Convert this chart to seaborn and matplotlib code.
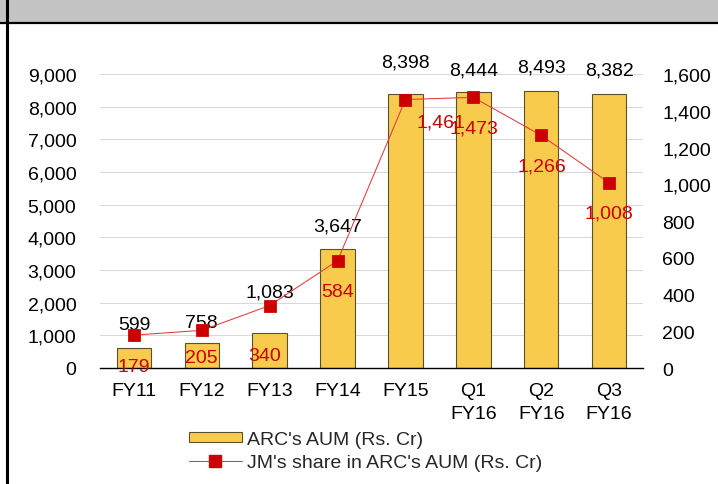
import matplotlib
matplotlib.use("Agg")
import matplotlib.pyplot as plt
import seaborn as sns
from matplotlib.patches import Rectangle, Patch
from matplotlib.lines import Line2D
from matplotlib.ticker import FuncFormatter, MultipleLocator

# ---- data ----
categories = ["FY11", "FY12", "FY13", "FY14", "FY15", "Q1\nFY16", "Q2\nFY16", "Q3\nFY16"]
arc_aum = [599, 758, 1083, 3647, 8398, 8444, 8493, 8382]
jm_share = [179, 205, 340, 584, 1461, 1473, 1266, 1008]
bar_series_name = "ARC's AUM (Rs. Cr)"
line_series_name = "JM's share in ARC's AUM (Rs. Cr)"

# ---- label placement (pixels), kept apart from data ----
bar_label_up_px = [24, 21, 41, 23, 32, 22, 24, 24]
line_label_off_px = [(0, 31), (0, 27), (-5, 50), (0, 31), (36, 22), (1, 31), (1, 31), (0, 30)]

BAR_COLOR = "#F8CB4C"
BAR_EDGE = "#5a5030"
RED = "#CC0000"
LINE_RED = "#E23A3F"

sns.set_style("white")
plt.rcParams["font.family"] = ["Liberation Sans", "DejaVu Sans"]
FS = 14

W, H = 718, 485
fig = plt.figure(figsize=(W / 100, H / 100), dpi=100)
ax = fig.add_axes([100 / W, 1 - 369 / H, (643 - 100) / W, (369 - 75) / H])

sns.barplot(x=categories, y=arc_aum, color=BAR_COLOR, width=0.51,
            edgecolor=BAR_EDGE, linewidth=0.8, saturation=1, ax=ax, zorder=2)
ax.set_ylim(0, 9000)
ax.yaxis.set_major_locator(MultipleLocator(1000))
ax.yaxis.set_major_formatter(FuncFormatter(lambda v, p: f"{int(v):,}"))
ax.grid(axis="y", color="#D9D9D9", linewidth=0.75, zorder=0)
ax.set_axisbelow(True)
for s in ["top", "left", "right"]:
    ax.spines[s].set_visible(False)
ax.spines["bottom"].set_color("black")
ax.spines["bottom"].set_linewidth(1.0)
ax.spines["bottom"].set_zorder(3)
ax.tick_params(axis="y", length=0, pad=17, labelsize=FS, labelcolor="black")
ax.tick_params(axis="x", length=0, pad=10, labelsize=FS, labelcolor="black")
ax.set_xlabel("")
ax.set_ylabel("")

# bar value labels
for i, (cat, v) in enumerate(zip(categories, arc_aum)):
    ax.annotate(f"{v:,}", xy=(i, v), xytext=(0, bar_label_up_px[i] * 0.72),
                textcoords="offset points", ha="center", va="center",
                fontsize=FS, color="black", zorder=5)

ax2 = ax.twinx()
sns.pointplot(x=categories, y=jm_share, ax=ax2, color=RED, markers="s",
              errorbar=None, markersize=8.6, linewidth=0.75)
ln = ax2.lines[0]
ln.set_color(LINE_RED)
ln.set_markerfacecolor(RED)
ln.set_markeredgecolor(RED)
ax2.set_ylim(0, 1600)
ax2.yaxis.set_major_locator(MultipleLocator(200))
ax2.yaxis.set_major_formatter(FuncFormatter(lambda v, p: f"{int(v):,}"))
for s in ax2.spines.values():
    s.set_visible(False)
ax2.tick_params(axis="y", length=0, pad=14, labelsize=FS, labelcolor="black")
ax2.tick_params(axis="x", length=0, pad=10, labelsize=FS, labelcolor="black")
ax2.set_ylabel("")
ax2.set_xlabel("")
ax2.grid(False)
for lab in ax.get_xticklabels() + ax2.get_xticklabels():
    lab.set_linespacing(1.45)

for i, v in enumerate(jm_share):
    dx, dy = line_label_off_px[i]
    ax2.annotate(f"{v:,}", xy=(i, v), xytext=(dx * 0.72, -dy * 0.72),
                 textcoords="offset points", ha="center", va="center",
                 fontsize=FS, color=RED, zorder=6)

# legend
handles = [
    Patch(facecolor=BAR_COLOR, edgecolor=BAR_EDGE, linewidth=0.8),
    Line2D([], [], color=LINE_RED, lw=0.75, marker="s", markersize=8.6,
           markerfacecolor=RED, markeredgecolor=RED),
]
fig.legend(handles, [bar_series_name, line_series_name], loc="upper left",
           bbox_to_anchor=(189 / W, 1 - 432 / H), frameon=False, fontsize=FS,
           borderpad=0, borderaxespad=0, handlelength=2.7, handleheight=0.45,
           handletextpad=0.3, labelspacing=0.32)

# header band and frame
fig.add_artist(Rectangle((0, 1 - 23 / H), 1, 23 / H, transform=fig.transFigure,
                         facecolor="#C4C4C4", edgecolor="none", zorder=0))
fig.add_artist(Line2D([0, 1], [1 - 23.5 / H, 1 - 23.5 / H], transform=fig.transFigure,
                      color="black", lw=1.6))
fig.add_artist(Line2D([7 / W, 7 / W], [0, 1], transform=fig.transFigure,
                      color="black", lw=2.2))

fig.savefig("out.png", dpi=100)
